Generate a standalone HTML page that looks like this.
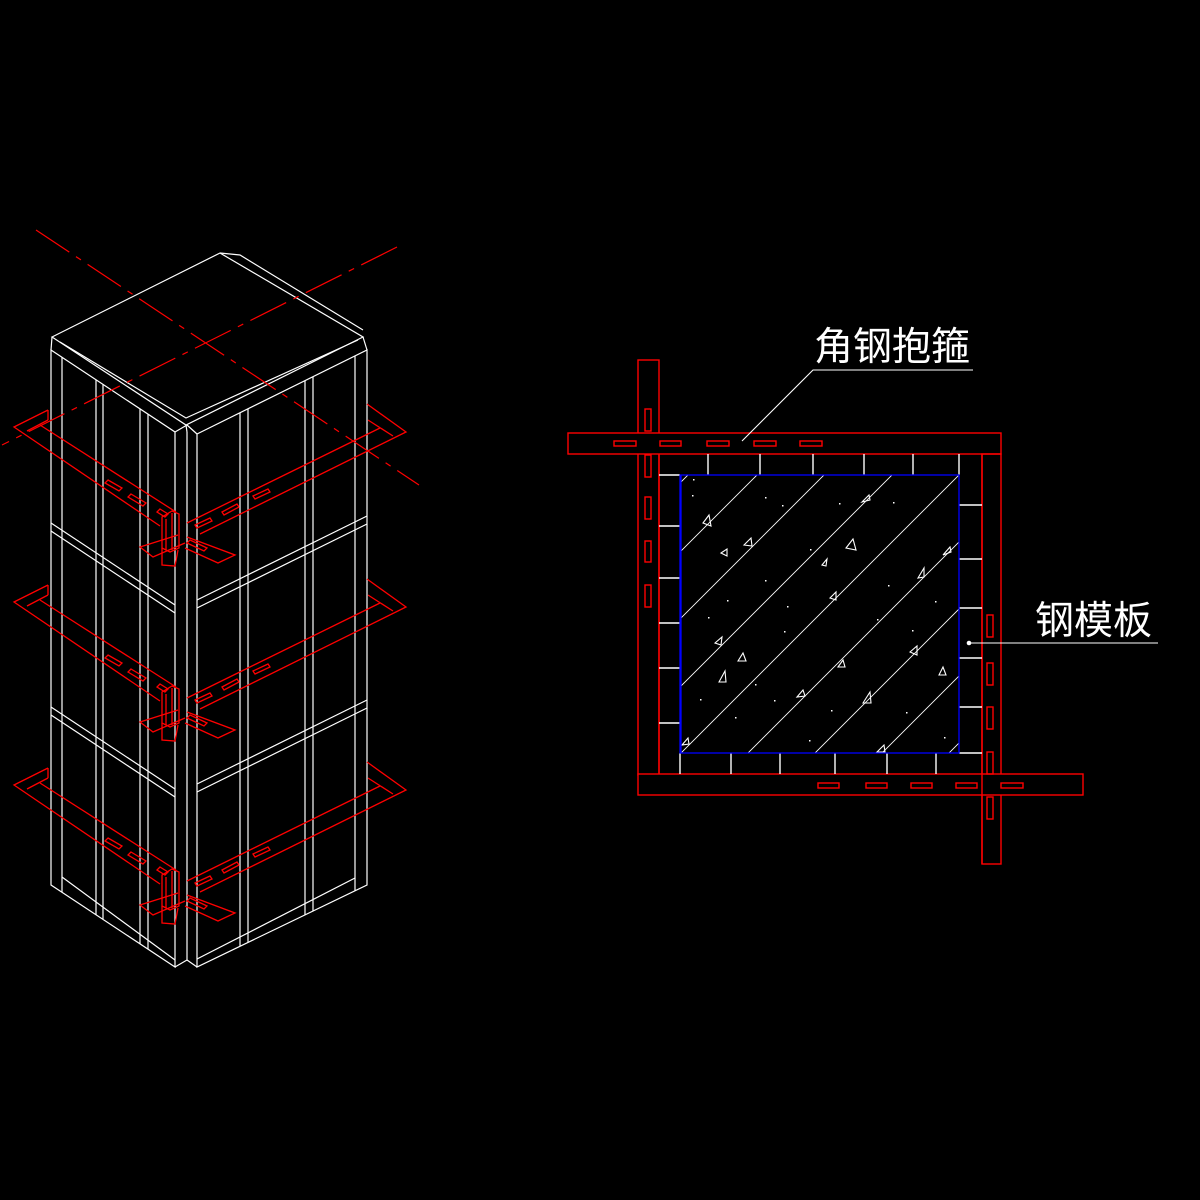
<!DOCTYPE html>
<html><head><meta charset="utf-8"><style>
html,body{margin:0;padding:0;background:#000;}
svg{display:block}
text{font-family:"Liberation Sans","Noto Sans CJK SC","WenQuanYi Zen Hei",sans-serif;fill:#fff}
</style></head><body>
<svg width="1200" height="1200" viewBox="0 0 1200 1200" xmlns="http://www.w3.org/2000/svg">
<rect width="1200" height="1200" fill="#000"/>
<defs>
<clipPath id="cc"><rect x="680" y="475" width="279" height="278"/></clipPath>
<g id="clamp" fill="none" stroke="#f00" stroke-width="1.3">
  <polyline points="48,410 14,427 160,526"/>
  <polyline points="48,420 27,431"/>
  <polyline points="40,425 176,512"/>
  <polyline points="48,410 48,420"/>
  <polyline points="367,404 406,432 200,534"/>
  <polyline points="368,420 393,436"/>
  <polyline points="380,428 187,523"/>
  <polygon points="108,480 122,488 119,491 105,483"/>
  <polygon points="131,494 146,503 143,506 128,497"/>
  <polygon points="160,509 168,514 165,517 157,512"/>
  <polygon points="253,496 268,489 270,492 255,499"/>
  <polygon points="222,512 237,504 239,507 224,515"/>
  <polygon points="195,525 210,518 212,521 197,528"/>
  <polygon points="162,517 172,511 179,514 179,548 170,552 162,548"/>
  <line x1="166" y1="519" x2="166" y2="550"/>
  <line x1="172" y1="513" x2="172" y2="550"/>
  <polyline points="178,535 140,547 153,557 185,543"/>
  <polyline points="187,537 235,555 218,563 185,548"/>
  <polygon points="190,540 207,548 204,551 187,543"/>
  <polyline points="162,548 162,565 175,566 178,550"/>
</g>
</defs>

<g fill="none" stroke="#fff" stroke-width="1.2">
  <polygon points="52,337 220,253 363,337 186,425"/>
  <polyline points="220,253 240,255 363,330"/>
  <polyline points="60,342 186,418 358,340"/>
  <line x1="52" y1="337" x2="51" y2="350"/>
  <line x1="363" y1="337" x2="367" y2="350"/>
  <line x1="186" y1="425" x2="187" y2="432"/>
  <polygon points="51,350 175,432 175,967 51,885"/>
  <line x1="62" y1="357" x2="62" y2="892"/>
  <line x1="96" y1="380" x2="96" y2="915"/>
  <line x1="103" y1="384" x2="103" y2="919"/>
  <line x1="140" y1="409" x2="140" y2="944"/>
  <line x1="148" y1="414" x2="148" y2="949"/>
  <line x1="51" y1="523" x2="175" y2="605"/>
  <line x1="51" y1="531" x2="175" y2="613"/>
  <line x1="51" y1="707" x2="175" y2="789"/>
  <line x1="51" y1="715" x2="175" y2="797"/>
  <line x1="62" y1="877" x2="175" y2="960"/>
  <line x1="187" y1="432" x2="187" y2="960"/>
  <line x1="175" y1="967" x2="187" y2="960"/>
  <line x1="187" y1="960" x2="197" y2="967"/>
  <line x1="175" y1="432" x2="187" y2="425"/>
  <line x1="187" y1="425" x2="197" y2="434"/>
  <polygon points="197,434 367,350 367,885 197,967"/>
  <line x1="240" y1="413" x2="240" y2="946"/>
  <line x1="248" y1="409" x2="248" y2="942"/>
  <line x1="305" y1="381" x2="305" y2="915"/>
  <line x1="313" y1="377" x2="313" y2="911"/>
  <line x1="355" y1="356" x2="355" y2="891"/>
  <line x1="197" y1="600" x2="367" y2="516"/>
  <line x1="197" y1="608" x2="367" y2="524"/>
  <line x1="197" y1="784" x2="367" y2="700"/>
  <line x1="197" y1="792" x2="367" y2="708"/>
  <line x1="197" y1="959" x2="355" y2="878"/>
</g>
<g stroke="#f00" stroke-width="1.2" stroke-dasharray="40,8,6,8" fill="none">
  <line x1="36" y1="230" x2="419" y2="485"/>
  <line x1="397" y1="247" x2="2" y2="445"/>
</g>
<use href="#clamp"/>
<use href="#clamp" transform="translate(0,175)"/>
<use href="#clamp" transform="translate(0,358)"/>

<g fill="none" stroke="#f00" stroke-width="1.4">
  <rect x="638" y="360" width="21" height="415"/>
  <rect x="568" y="433" width="433" height="21" fill="#000"/>
  <rect x="982" y="454" width="19" height="410"/>
  <rect x="638" y="774" width="445" height="21" fill="#000"/>
  <line x1="659" y1="454" x2="659" y2="774"/>
  <line x1="982" y1="454" x2="982" y2="864"/>
  <rect x="614" y="441" width="22" height="5"/>
  <rect x="660" y="441" width="21" height="5"/>
  <rect x="707" y="441" width="22" height="5"/>
  <rect x="754" y="441" width="22" height="5"/>
  <rect x="800" y="441" width="22" height="5"/>
  <rect x="645" y="409" width="6" height="22"/>
  <rect x="645" y="455" width="6" height="22"/>
  <rect x="645" y="497" width="6" height="22"/>
  <rect x="645" y="541" width="6" height="21"/>
  <rect x="645" y="585" width="6" height="22"/>
  <rect x="818" y="783" width="21" height="5"/>
  <rect x="866" y="783" width="21" height="5"/>
  <rect x="911" y="783" width="21" height="5"/>
  <rect x="956" y="783" width="21" height="5"/>
  <rect x="1001" y="783" width="22" height="5"/>
  <rect x="987" y="615" width="6" height="22"/>
  <rect x="987" y="663" width="6" height="22"/>
  <rect x="987" y="707" width="6" height="22"/>
  <rect x="987" y="752" width="6" height="22"/>
  <rect x="987" y="797" width="6" height="22"/>
</g>
<g stroke="#fff" stroke-width="1.4">
  <line x1="708" y1="454" x2="708" y2="475"/><line x1="760" y1="454" x2="760" y2="475"/>
  <line x1="813" y1="454" x2="813" y2="475"/><line x1="864" y1="454" x2="864" y2="475"/>
  <line x1="913" y1="454" x2="913" y2="475"/><line x1="959" y1="454" x2="959" y2="475"/>
  <line x1="680" y1="753" x2="680" y2="774"/><line x1="731" y1="753" x2="731" y2="774"/>
  <line x1="780" y1="753" x2="780" y2="774"/><line x1="835" y1="753" x2="835" y2="774"/>
  <line x1="887" y1="753" x2="887" y2="774"/><line x1="936" y1="753" x2="936" y2="774"/>
  <line x1="659" y1="475" x2="680" y2="475"/><line x1="659" y1="526" x2="680" y2="526"/>
  <line x1="659" y1="578" x2="680" y2="578"/><line x1="659" y1="623" x2="680" y2="623"/>
  <line x1="659" y1="668" x2="680" y2="668"/><line x1="659" y1="723" x2="680" y2="723"/>
  <line x1="959" y1="505" x2="982" y2="505"/><line x1="959" y1="559" x2="982" y2="559"/>
  <line x1="959" y1="608" x2="982" y2="608"/><line x1="959" y1="658" x2="982" y2="658"/>
  <line x1="959" y1="707" x2="982" y2="707"/><line x1="959" y1="753" x2="982" y2="753"/>
</g>
<g clip-path="url(#cc)" stroke="#fff" stroke-width="0.9" fill="none">
  <line x1="1163" y1="0" x2="363" y2="800"/>
  <line x1="1232" y1="0" x2="432" y2="800"/>
  <line x1="1299" y1="0" x2="499" y2="800"/>
  <line x1="1367" y1="0" x2="567" y2="800"/>
  <line x1="1434" y1="0" x2="634" y2="800"/>
  <line x1="1501" y1="0" x2="701" y2="800"/>
  <line x1="1568" y1="0" x2="768" y2="800"/>
  <line x1="1635" y1="0" x2="835" y2="800"/>
  <line x1="1702" y1="0" x2="902" y2="800"/>
  <g stroke-width="1.1">
    <polygon points="703,523 709,515 711,526"/>
    <polygon points="721,553 727,549 727,556"/>
    <polygon points="744,545 751,538 752,546"/>
    <polygon points="846,548 853,539 856,550"/>
    <polygon points="822,565 827,559 826,566"/>
    <polygon points="918,578 924,568 924,577"/>
    <polygon points="830,598 836,592 836,600"/>
    <polygon points="862,502 869,495 870,500"/>
    <polygon points="943,555 950,547 951,552"/>
    <polygon points="715,643 722,637 721,645"/>
    <polygon points="738,661 743,653 746,661"/>
    <polygon points="719,682 725,671 726,682"/>
    <polygon points="838,667 843,660 845,667"/>
    <polygon points="797,697 803,690 805,696"/>
    <polygon points="863,703 870,692 871,703"/>
    <polygon points="910,652 917,646 917,655"/>
    <polygon points="939,675 943,667 946,675"/>
    <polygon points="682,745 688,738 689,744"/>
    <polygon points="877,752 884,745 885,752"/>
  </g>
  <g fill="#fff" stroke="none">
    <rect x="693" y="479" width="1.5" height="1.5"/><rect x="692" y="495" width="1.5" height="1.5"/>
    <rect x="765" y="497" width="1.5" height="1.5"/><rect x="782" y="505" width="1.5" height="1.5"/>
    <rect x="839" y="503" width="1.5" height="1.5"/><rect x="893" y="502" width="1.5" height="1.5"/>
    <rect x="810" y="549" width="1.5" height="1.5"/><rect x="765" y="580" width="1.5" height="1.5"/>
    <rect x="727" y="600" width="1.5" height="1.5"/><rect x="787" y="606" width="1.5" height="1.5"/>
    <rect x="888" y="585" width="1.5" height="1.5"/><rect x="935" y="601" width="1.5" height="1.5"/>
    <rect x="708" y="617" width="1.5" height="1.5"/><rect x="784" y="631" width="1.5" height="1.5"/>
    <rect x="877" y="619" width="1.5" height="1.5"/><rect x="912" y="630" width="1.5" height="1.5"/>
    <rect x="700" y="699" width="1.5" height="1.5"/><rect x="774" y="700" width="1.5" height="1.5"/>
    <rect x="831" y="710" width="1.5" height="1.5"/><rect x="906" y="712" width="1.5" height="1.5"/>
    <rect x="735" y="717" width="1.5" height="1.5"/><rect x="944" y="737" width="1.5" height="1.5"/>
    <rect x="809" y="740" width="1.5" height="1.5"/><rect x="755" y="684" width="1.5" height="1.5"/>
  </g>
</g>
<rect x="680" y="475" width="279" height="278" fill="none" stroke="#00f" stroke-width="1.3"/>
<line x1="681" y1="475" x2="681" y2="753" stroke="#00f" stroke-width="1.3"/>

<g stroke="#fff" stroke-width="1.1" fill="none">
  <polyline points="742,441 813,370 973,370"/>
  <line x1="969" y1="643" x2="1158" y2="643"/>
</g>
<circle cx="969" cy="643" r="2.3" fill="#fff"/>
<text x="814" y="360" font-size="39">角钢抱箍</text>
<text x="1035" y="634" font-size="39">钢模板</text>
</svg>
</body></html>
